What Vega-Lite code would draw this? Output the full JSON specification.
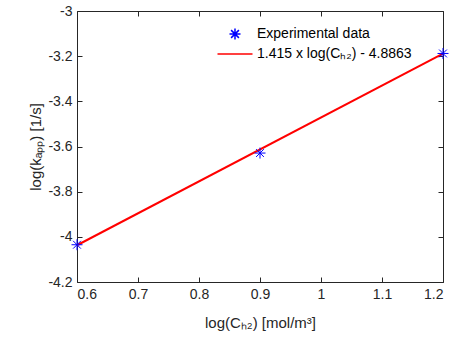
{
  "$schema": "https://vega.github.io/schema/vega-lite/v6.json",
  "width": 366,
  "height": 271,
  "autosize": {"type": "none"},
  "padding": {"left": 77, "top": 11, "right": 13, "bottom": 63},
  "background": "white",
  "config": {
    "font": "Liberation Sans",
    "view": {"stroke": "#262626", "strokeWidth": 1},
    "axis": {
      "domain": false,
      "grid": false,
      "tickSize": -5,
      "tickColor": "#262626",
      "labelColor": "#262626",
      "labelFont": "Liberation Sans",
      "labelFontSize": 14,
      "titleFont": "Liberation Sans",
      "titleFontSize": 15,
      "titleFontWeight": "normal",
      "titleColor": "#262626"
    },
    "legend": {
      "labelFont": "Liberation Sans",
      "labelFontSize": 14,
      "labelColor": "#000000"
    }
  },
  "datasets": {
    "exp": [
      {"x": 0.6, "y": -4.035, "series": "Experimental data"},
      {"x": 0.9, "y": -3.629, "series": "Experimental data"},
      {"x": 1.2, "y": -3.188, "series": "Experimental data"}
    ],
    "fit": [
      {"x": 0.6, "y": -4.0373, "series": "1.415 x log(Cₕ₂) - 4.8863"},
      {"x": 1.2, "y": -3.1883, "series": "1.415 x log(Cₕ₂) - 4.8863"}
    ]
  },
  "resolve": {"axis": {"x": "independent", "y": "independent"}},
  "layer": [
    {
      "data": {"name": "fit"},
      "mark": {"type": "line", "strokeWidth": 2, "clip": false},
      "encoding": {
        "x": {
          "field": "x", "type": "quantitative",
          "scale": {"domain": [0.6, 1.2], "nice": false, "zero": false},
          "axis": {"orient": "top", "labels": false, "title": null, "values": [0.6, 0.7, 0.8, 0.9, 1, 1.1, 1.2]}
        },
        "y": {
          "field": "y", "type": "quantitative",
          "scale": {"domain": [-4.2, -3], "nice": false, "zero": false},
          "axis": {"orient": "right", "labels": false, "title": null, "values": [-4.2, -4, -3.8, -3.6, -3.4, -3.2, -3]}
        },
        "color": {
          "field": "series", "type": "nominal",
          "scale": {"domain": ["Experimental data", "1.415 x log(Cₕ₂) - 4.8863"], "range": ["#0000ff", "#ff0000"]},
          "legend": {
            "title": null,
            "orient": "none",
            "legendX": 147,
            "legendY": 12,
            "symbolSize": 400,
            "symbolStrokeWidth": 1.5,
            "labelOffset": 11,
            "rowPadding": 0
          }
        }
      }
    },
    {
      "data": {"name": "exp"},
      "mark": {"type": "point", "filled": false, "strokeWidth": 1, "size": 400, "opacity": 1, "clip": false},
      "encoding": {
        "x": {
          "field": "x", "type": "quantitative",
          "axis": {"orient": "bottom", "title": "log(Cₕ₂) [mol/m³]", "values": [0.6, 0.7, 0.8, 0.9, 1, 1.1, 1.2], "labelExpr": "replace(format(datum.value, '~g'), '\u2212', '-')", "labelPadding": 10, "titlePadding": 14}
        },
        "y": {
          "field": "y", "type": "quantitative",
          "axis": {"orient": "left", "title": "log(kₐₚₚ) [1/s]", "values": [-4.2, -4, -3.8, -3.6, -3.4, -3.2, -3], "labelExpr": "replace(format(datum.value, '~g'), '\u2212', '-')", "labelPadding": 10, "titlePadding": 4}
        },
        "color": {"field": "series", "type": "nominal"},
        "shape": {
          "field": "series", "type": "nominal",
          "scale": {
            "domain": ["Experimental data", "1.415 x log(Cₕ₂) - 4.8863"],
            "range": ["M-0.55,0L0.55,0M0,-0.55L0,0.55M-0.39,-0.39L0.39,0.39M-0.39,0.39L0.39,-0.39", "M-1.75,0L1.75,0"]
          }
        }
      }
    }
  ]
}
